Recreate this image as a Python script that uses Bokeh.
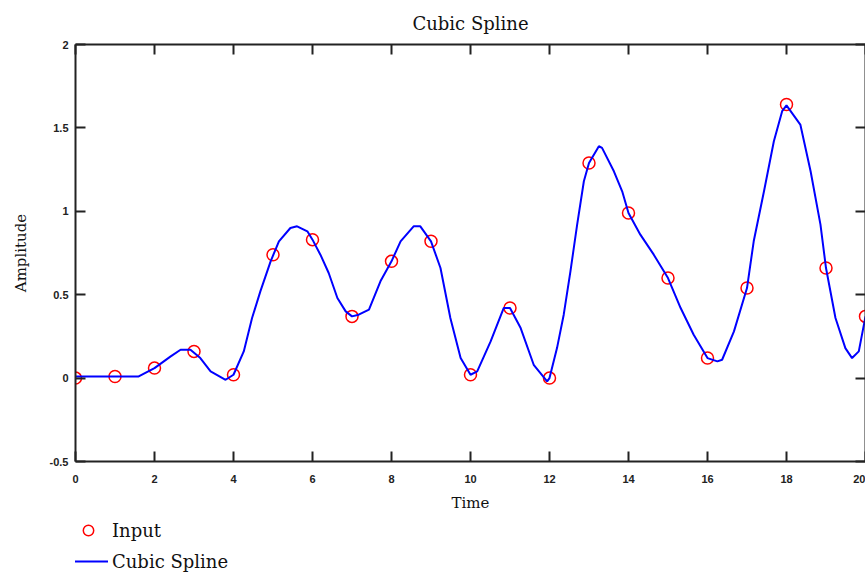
from bokeh.plotting import figure
from bokeh.layouts import column
from bokeh.models import LinearAxis, FixedTicker, NumeralTickFormatter, Legend, LegendItem, Range1d
from bokeh.embed import file_html
from bokeh.resources import INLINE

# ---- data ----
input_time = list(range(21))
input_values = [0.0, 0.01, 0.06, 0.16, 0.02, 0.74, 0.83, 0.37, 0.70, 0.82, 0.02,
                0.42, 0.0, 1.29, 0.99, 0.60, 0.12, 0.54, 1.64, 0.66, 0.37]

spline_time = [0, 1, 1.6, 2, 2.41, 2.66, 2.91, 3.16, 3.42, 3.8,
               4, 4.26, 4.47, 4.68, 4.94, 5.15, 5.44, 5.61, 5.87, 6,
               6.2, 6.41, 6.63, 6.84, 7, 7.17, 7.43, 7.72, 8, 8.23,
               8.56, 8.73, 9, 9.24, 9.49, 9.75, 10, 10.17, 10.51, 10.84,
               11, 11.27, 11.6, 11.94, 12, 12.19, 12.36, 12.53, 12.7, 12.87,
               13, 13.25, 13.33, 13.63, 13.84, 14, 14.3, 14.64, 15, 15.32,
               15.65, 16, 16.25, 16.37, 16.67, 17, 17.17, 17.43, 17.68, 17.89,
               18, 18.35, 18.61, 18.86, 19, 19.24, 19.49, 19.66, 19.83, 20]
spline_values = [0.01, 0.01, 0.01, 0.06, 0.13, 0.17, 0.17, 0.12, 0.04, -0.01,
                 0.02, 0.16, 0.36, 0.52, 0.70, 0.82, 0.90, 0.91, 0.88, 0.83,
                 0.74, 0.63, 0.48, 0.40, 0.37, 0.38, 0.41, 0.58, 0.70, 0.82,
                 0.91, 0.91, 0.82, 0.66, 0.36, 0.12, 0.02, 0.04, 0.22, 0.42,
                 0.42, 0.30, 0.08, -0.02, 0.0, 0.18, 0.38, 0.64, 0.92, 1.18,
                 1.29, 1.39, 1.38, 1.24, 1.12, 0.99, 0.86, 0.74, 0.60, 0.42,
                 0.26, 0.12, 0.10, 0.11, 0.28, 0.54, 0.82, 1.12, 1.42, 1.60,
                 1.635, 1.52, 1.24, 0.92, 0.66, 0.36, 0.18, 0.12, 0.16, 0.37]

x_ticks = [0, 2, 4, 6, 8, 10, 12, 14, 16, 18, 20]
y_ticks = [-0.5, 0, 0.5, 1, 1.5, 2]
series_names = ["Input", "Cubic Spline"]

AXIS_COLOR = "#222222"
INPUT_STYLE = dict(marker="circle", size=12, fill_color=None,
                   line_color="#ff0000", line_width=1.5)
SPLINE_STYLE = dict(line_color="#0000ff", line_width=2)

p = figure(width=865, height=514, output_backend="svg", toolbar_location=None,
           x_range=Range1d(0, 20), y_range=Range1d(-0.5, 2),
           min_border_left=75, min_border_right=0, min_border_top=44,
           min_border_bottom=53, title="Cubic Spline",
           x_axis_label="Time", y_axis_label="Amplitude")

p.background_fill_color = "white"
p.border_fill_color = "white"
p.outline_line_color = None
p.xgrid.visible = False
p.ygrid.visible = False

p.title.align = "center"
p.title.text_font = "DejaVu Serif"
p.title.text_font_size = "18px"
p.title.text_font_style = "normal"
p.title.text_color = "#111111"
p.title.standoff = 21


def style_axis(ax, ticks, show_labels):
    ax.ticker = FixedTicker(ticks=ticks)
    ax.axis_line_width = 2
    ax.axis_line_color = AXIS_COLOR
    ax.major_tick_in = 10
    ax.major_tick_out = 0
    ax.major_tick_line_width = 2
    ax.major_tick_line_color = AXIS_COLOR
    ax.minor_tick_line_color = None
    if show_labels:
        ax.formatter = NumeralTickFormatter(format="0.[0]")
        ax.major_label_text_font = "Liberation Sans"
        ax.major_label_text_font_size = "11px"
        ax.major_label_text_font_style = "bold"
        ax.major_label_text_color = "#222222"
        ax.axis_label_text_font = "DejaVu Serif"
        ax.axis_label_text_font_size = "15px"
        ax.axis_label_text_font_style = "normal"
        ax.axis_label_text_color = "#111111"
    else:
        ax.major_label_text_font_size = "0px"
        ax.major_label_text_color = None
        ax.major_label_standoff = 0


style_axis(p.xaxis[0], x_ticks, True)
style_axis(p.yaxis[0], y_ticks, True)
p.xaxis[0].major_label_standoff = 13
p.xaxis[0].axis_label_standoff = 8
p.yaxis[0].major_label_standoff = 7
p.yaxis[0].axis_label_standoff = 17

top_axis = LinearAxis()
style_axis(top_axis, x_ticks, False)
p.add_layout(top_axis, "above")
right_axis = LinearAxis()
style_axis(right_axis, y_ticks, False)
p.add_layout(right_axis, "right")

p.scatter(input_time, input_values, **INPUT_STYLE)
p.line(spline_time, spline_values, **SPLINE_STYLE)

# ---- legend strip below the chart (same styles as the plotted series) ----
lg = figure(width=865, height=60, output_backend="svg", toolbar_location=None,
            x_range=Range1d(0, 1), y_range=Range1d(0, 1),
            x_axis_location=None, y_axis_location=None, min_border=0)
lg.outline_line_color = None
lg.xgrid.visible = False
lg.ygrid.visible = False
lg.background_fill_color = "white"
lg.border_fill_color = "white"
nan = float("nan")
key_pts = lg.scatter([nan], [nan], **INPUT_STYLE)
key_ln = lg.line([nan], [nan], **SPLINE_STYLE)

legend = Legend(items=[LegendItem(label=series_names[0], renderers=[key_pts]),
                       LegendItem(label=series_names[1], renderers=[key_ln])],
                location=(-7, 0), orientation="vertical",
                border_line_color=None,
                background_fill_alpha=0, padding=0, margin=0, spacing=5,
                glyph_width=40, glyph_height=26, label_standoff=4,
                label_text_font="DejaVu Serif", label_text_font_size="18px",
                label_text_color="#111111")
lg.add_layout(legend, "center")

layout = column(p, lg, spacing=0)
open("out.html", "w").write(file_html(layout, INLINE))
